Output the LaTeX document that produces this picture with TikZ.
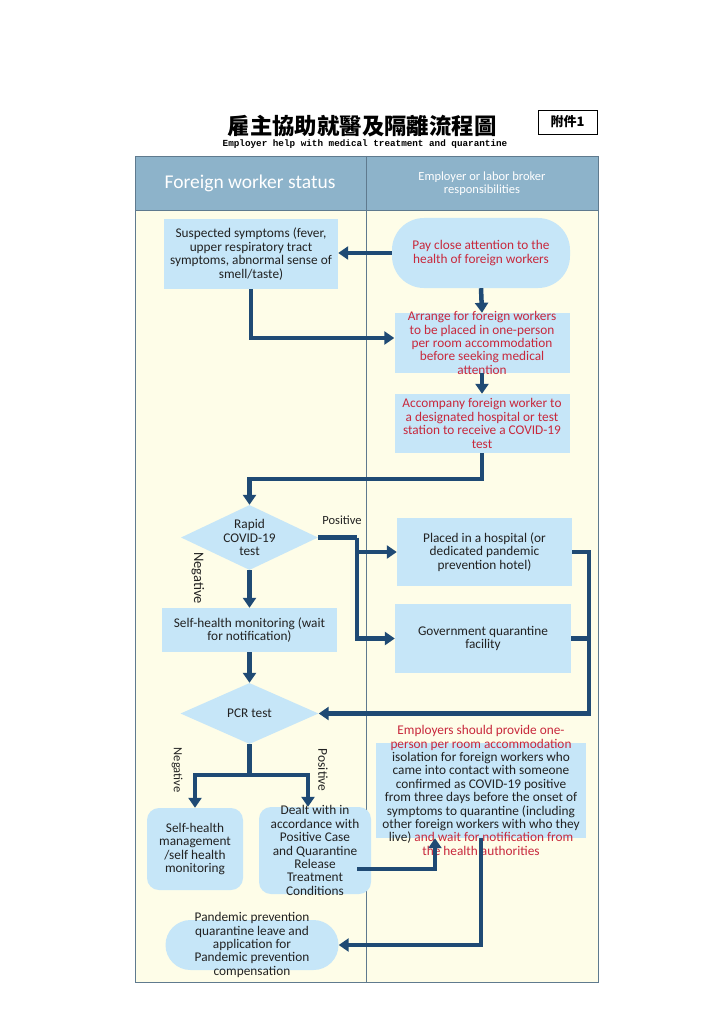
\documentclass[tikz,border=0pt]{standalone}
\usepackage{fontspec}
\setmainfont{Carlito}
\newfontfamily\cjkfont{Noto Sans CJK TC}
\newfontfamily\submono{Liberation Mono}
\usetikzlibrary{shapes.geometric,arrows.meta,calc}
\definecolor{hdr}{HTML}{8DB3CA}
\definecolor{boxc}{HTML}{C6E6F8}
\definecolor{bgc}{HTML}{FEFDE8}
\definecolor{arrc}{HTML}{1F4A74}
\definecolor{redc}{HTML}{C8283C}
\definecolor{txtc}{HTML}{222222}
\definecolor{linec}{HTML}{5F7A8E}
\tikzset{
  body/.style={font=\fontsize{13.3}{13.4}\selectfont},
  box/.style={body, fill=boxc, text=txtc, align=center, inner xsep=0pt, inner ysep=0pt},
  redbox/.style={box, text=redc},
  dia/.style={box, shape=diamond, aspect=2.1},
  conn/.style={draw=arrc, line width=4.5pt},
  arr/.style={conn, -{Triangle[width=13pt,length=10pt]}},
  lbl/.style={text=txtc, inner sep=0pt},
}
\begin{document}
\begin{tikzpicture}[x=1pt,y=-1pt]
\useasboundingbox (0,0) rectangle (724,1024);
\fill[white] (0,0) rectangle (724,1024);
% title
\node[inner sep=0pt] (title) at (362,126) {\cjkfont\bfseries\fontsize{22.4}{22.4}\selectfont 雇主協助就醫及隔離流程圖};
\node[inner sep=0pt] (subtitle) at (365,144) {\submono\bfseries\fontsize{9.3}{9.3}\selectfont Employer help with medical treatment and quarantine};
\node[draw=black, line width=0.8pt, minimum width=59pt, minimum height=24pt, inner sep=0pt] (annex) at (567.5,122) {\cjkfont\bfseries\fontsize{13}{13}\selectfont 附件1};
% frame
\fill[bgc] (135,210) rectangle (598,982);
\fill[hdr] (135,156) rectangle (598,210);
\draw[linec, line width=0.6pt] (135,210) -- (598,210);
\draw[linec, line width=0.8pt] (135,156) rectangle (598,982);
\draw[linec, line width=1pt] (366.5,156) -- (366.5,982);
\node[text=white, inner sep=0pt, font=\fontsize{19.5}{20}\selectfont] (hdrL) at (250,183) {Foreign worker status};
\node[text=white, inner sep=0pt, align=center, font=\fontsize{12.5}{13.2}\selectfont] (hdrR) at (482,183.5) {Employer or labor broker\\responsibilities};
% nodes
\node[box, minimum width=174pt, minimum height=70pt] (susp) at (251,254)
  {Suspected symptoms (fever,\\upper respiratory tract\\symptoms, abnormal sense of\\smell/taste)};
\node[redbox, minimum width=178pt, minimum height=70pt, rounded corners=32pt] (pay) at (481,253)
  {Pay close attention to the\\health of foreign workers};
\node[redbox, minimum width=175pt, minimum height=60pt, inner ysep=-4pt] (arrange) at (482,343)
  {Arrange for foreign workers\\to be placed in one-person\\per room accommodation\\before seeking medical\\attention};
\node[redbox, minimum width=175pt, minimum height=59pt] (acc) at (482,423.5)
  {Accompany foreign worker to\\a designated hospital or test\\station to receive a COVID-19\\test};
\node[dia, minimum width=137pt, minimum height=65pt] (rapid) at (249.5,537.5)
  {Rapid\\COVID-19\\test};
\node[box, minimum width=175pt, minimum height=68pt] (placed) at (484.5,552)
  {Placed in a hospital (or\\dedicated pandemic\\prevention hotel)};
\node[box, minimum width=175pt, minimum height=44pt] (shmon) at (249.5,630)
  {Self-health monitoring (wait\\for notification)};
\node[box, minimum width=176pt, minimum height=69pt] (gov) at (483,638.5)
  {Government quarantine\\facility};
\node[dia, minimum width=138pt, minimum height=61pt] (pcr) at (249.5,713.5) {PCR test};
\node[box, minimum width=210pt, minimum height=95pt, inner ysep=-19pt] (emp) at (481,790.5)
  {\textcolor{redc}{Employers should provide one-}\\
   \textcolor{redc}{person per room accommodation}\\
   isolation for foreign workers who\\
   came into contact with someone\\
   confirmed as COVID-19 positive\\
   from three days before the onset of\\
   symptoms to quarantine (including\\
   other foreign workers with who they\\
   live) \textcolor{redc}{and wait for notification from}\\
   \textcolor{redc}{the health authorities}};
\node[box, minimum width=96pt, minimum height=82pt, rounded corners=12pt] (shmg) at (195,849)
  {Self-health\\management\\/self health\\monitoring};
\node[box, minimum width=112pt, minimum height=87pt, rounded corners=12pt, inner ysep=-5pt] (dealt) at (315,850.5)
  {Dealt with in\\accordance with\\Positive Case\\and Quarantine\\Release\\Treatment\\Conditions};
\node[box, minimum width=173pt, minimum height=50pt, rounded corners=25pt, inner ysep=-10pt] (pand) at (252,945)
  {Pandemic prevention\\quarantine leave and\\application for\\Pandemic prevention\\compensation};
% labels
\node[lbl, font=\fontsize{12.5}{13}\selectfont] (posA) at (342,520) {Positive};
\node[lbl, rotate=-90, font=\fontsize{14.5}{15}\selectfont] (negA) at (198,578) {Negative};
\node[lbl, rotate=-90, font=\fontsize{12.5}{13}\selectfont] (negB) at (177,770) {Negative};
\node[lbl, rotate=-90, font=\fontsize{13.5}{14}\selectfont] (posB) at (323,770) {Positive};
% connectors
\coordinate (pj) at (357,537.5);
\coordinate (rj) at (589,552);
\coordinate (pj2) at (249.5,775);
\draw[arr] (pay.west) -- (pay.west -| susp.east);
\draw[arr] (pay.south) -- (arrange.north);
\draw[arr] (susp.south) |- ([yshift=5pt]arrange.west);
\draw[arr] (arrange.south) -- (acc.north);
\draw[arr] (acc.south) -- ++(0,26) -| (rapid.north);
\draw[conn] (rapid.east) -- (pj);
\draw[arr] (pj) |- (gov.west);
\draw[arr] (pj |- placed.west) -- (placed.west);
\draw[arr] (rapid.south) -- (shmon.north);
\draw[arr] (shmon.south) -- (pcr.north);
\draw[arr] (placed.east) -| (rj |- pcr.east) -- (pcr.east);
\draw[conn] (gov.east) -- (gov.east -| rj);
\draw[conn] (pcr.south) -- (pj2);
\draw[arr] (pj2) -| (shmg.north);
\draw[arr] (pj2) -| ([xshift=-7pt]dealt.north);
\draw[arr] ([xshift=-14pt,yshift=-18.5pt]dealt.east) -| ([xshift=-46pt]emp.south);
\draw[arr] (emp.south) |- (pand.east);
\end{tikzpicture}
\end{document}
